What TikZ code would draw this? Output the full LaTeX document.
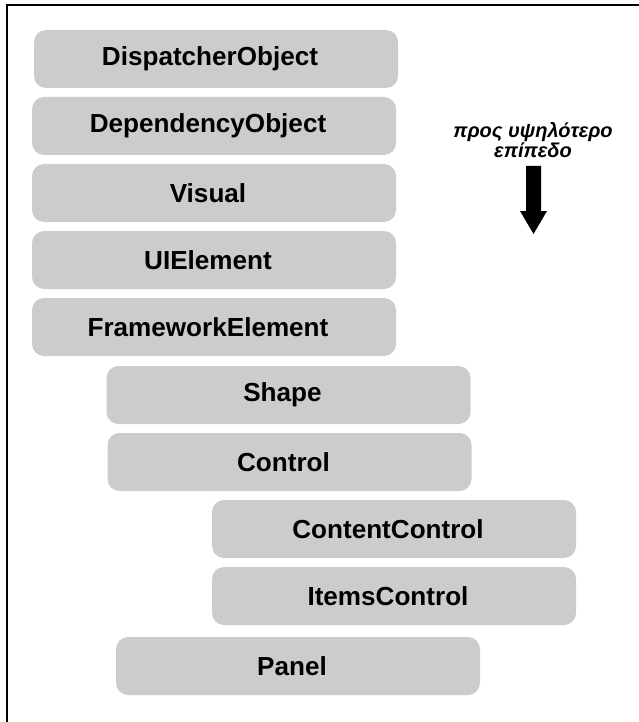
\documentclass[tikz,border=0pt]{standalone}
\usepackage{fontspec}
\setmainfont{Liberation Sans}
\begin{document}
\begin{tikzpicture}[x=1pt,y=-1pt,
  classbox/.style={fill=boxgray, rounded corners=12pt, minimum width=364pt,
    minimum height=58pt, inner sep=0pt, text=black,
    font=\fontsize{26.1}{30}\selectfont\bfseries,
    execute at end node={\hspace*{12pt}}},
  hint/.style={align=center, inner sep=0pt,
    font=\fontsize{20}{20}\selectfont\bfseries\itshape}]
\definecolor{boxgray}{HTML}{CCCCCC}
\useasboundingbox (0,0) rectangle (639,722);
% frame lines along the top and left edges
\draw[line width=2pt] (6.5,722) -- (6.5,5) -- (639,5);
% class hierarchy, base class at the top
\node[classbox] (dispatcher) at (216,59)   {DispatcherObject};
\node[classbox] (dependency) at (214,126)  {DependencyObject};
\node[classbox] (visual)     at (214,193)  {Visual};
\node[classbox] (uielement)  at (214,260)  {UIElement};
\node[classbox] (framework)  at (214,327)  {FrameworkElement};
\node[classbox] (shape)      at (288.5,395) {Shape};
\node[classbox] (control)    at (289.5,462) {Control};
\node[classbox] (content)    at (394,529)  {ContentControl};
\node[classbox] (items)      at (394,596)  {ItemsControl};
\node[classbox] (panel)      at (298,666)  {Panel};
% direction hint with a solid block arrow
\node[hint] (hinttext) at (533,140) {προς υψηλότερο\\επίπεδο};
\fill[black] (526,166) -- (541,166) -- (541,211) -- (547,211) -- (533.5,234)
  -- (520,211) -- (526,211) -- cycle;
\end{tikzpicture}
\end{document}
